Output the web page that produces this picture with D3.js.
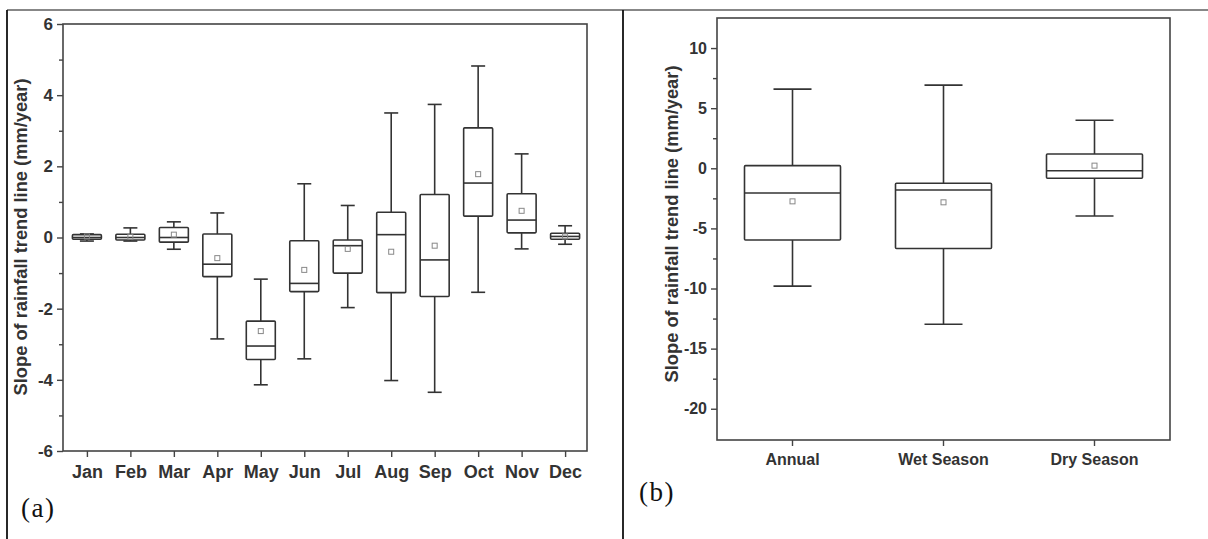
<!DOCTYPE html>
<html>
<head>
<meta charset="utf-8">
<script src="https://cdn.jsdelivr.net/npm/d3@7"></script>
<style>
  html, body { margin: 0; padding: 0; background: #fff; }
  svg { display: block; }
</style>
</head>
<body>
<svg id="chart" width="1208" height="539"></svg>
<script>
// ---------- DATA ----------
const months = ["Jan","Feb","Mar","Apr","May","Jun","Jul","Aug","Sep","Oct","Nov","Dec"];
const monthMin    = [-0.10, -0.10, -0.33, -2.85, -4.14, -3.41, -1.97, -4.02, -4.35, -1.54, -0.32, -0.19];
const monthQ1     = [-0.05, -0.07, -0.13, -1.10, -3.43, -1.52, -1.00, -1.55, -1.66,  0.60,  0.13, -0.05];
const monthMedian = [ 0.00,  0.00,  0.00, -0.75, -3.05, -1.29, -0.23,  0.08, -0.63,  1.53,  0.49,  0.03];
const monthQ3     = [ 0.08,  0.09,  0.28,  0.10, -2.35, -0.09, -0.07,  0.71,  1.21,  3.08,  1.23,  0.12];
const monthMax    = [ 0.10,  0.27,  0.44,  0.69, -1.17,  1.51,  0.90,  3.50,  3.74,  4.82,  2.35,  0.33];
const monthMean   = [ 0.03,  0.02,  0.08, -0.58, -2.63, -0.91, -0.32, -0.40, -0.23,  1.78,  0.75,  0.03];
const monthYTicks = [-6, -4, -2, 0, 2, 4, 6];
const monthYMinor = [-5, -3, -1, 1, 3, 5];

const seasons      = ["Annual", "Wet Season", "Dry Season"];
const seasonMin    = [-9.80, -12.97, -3.97];
const seasonQ1     = [-5.97,  -6.67, -0.83];
const seasonMedian = [-2.06,  -1.81, -0.20];
const seasonQ3     = [ 0.22,  -1.25,  1.19];
const seasonMax    = [ 6.58,   6.92,  4.00];
const seasonMean   = [-2.75,  -2.83,  0.22];
const seasonYTicks = [-20, -15, -10, -5, 0, 5, 10];
const seasonYMinor = [-17.5, -12.5, -7.5, -2.5, 2.5, 7.5];

const yLabel = "Slope of rainfall trend line (mm/year)";

// ---------- DRAW ----------
const svg = d3.select("#chart");
const ink = "#333";
const axisInk = "#444";
const sans = "'Liberation Sans', Arial, sans-serif";

// table borders
svg.append("line").attr("x1", 7).attr("x2", 1208).attr("y1", 10).attr("y2", 10)
  .attr("stroke", "#111").attr("stroke-width", 1.2);
svg.append("line").attr("x1", 7).attr("x2", 7).attr("y1", 10).attr("y2", 539)
  .attr("stroke", "#111").attr("stroke-width", 1.8);
svg.append("line").attr("x1", 623).attr("x2", 623).attr("y1", 10).attr("y2", 539)
  .attr("stroke", "#111").attr("stroke-width", 1.8);

function panel(cfg) {
  const g = svg.append("g");
  const { x, y, left, right, top, bottom } = cfg;

  // frame
  g.append("rect").attr("x", left).attr("y", top)
    .attr("width", right - left).attr("height", bottom - top)
    .attr("fill", "none").attr("stroke", axisInk).attr("stroke-width", 1.6);

  // y axis
  const yAxis = d3.axisLeft(y).tickValues(cfg.yTicks).tickSize(6).tickPadding(4)
    .tickFormat(d => String(d));
  const ya = g.append("g").attr("transform", `translate(${left},0)`).call(yAxis);
  ya.select(".domain").remove();
  ya.selectAll(".tick line").attr("stroke", axisInk).attr("stroke-width", 1.4);
  ya.selectAll(".tick text").attr("fill", ink)
    .style("font-family", sans)
    .style("font-weight", "bold").style("font-size", cfg.tickFont + "px");
  const ym = d3.axisLeft(y).tickValues(cfg.yMinor).tickSize(4).tickFormat("");
  const yma = g.append("g").attr("transform", `translate(${left},0)`).call(ym);
  yma.select(".domain").remove();
  yma.selectAll(".tick line").attr("stroke", axisInk).attr("stroke-width", 1.4);

  // x axis
  const xAxis = d3.axisBottom(x).tickSize(6).tickPadding(cfg.xPad);
  const xa = g.append("g").attr("transform", `translate(0,${bottom})`).call(xAxis);
  xa.select(".domain").remove();
  xa.selectAll(".tick line").attr("stroke", axisInk).attr("stroke-width", 1.4);
  xa.selectAll(".tick text").attr("fill", ink)
    .style("font-family", sans)
    .style("font-weight", "bold").style("font-size", cfg.xFont + "px");

  // boxes
  const cx = d => x(d) + (x.bandwidth ? x.bandwidth() / 2 : 0);
  const data = cfg.cats.map((c, i) => ({
    c, min: cfg.min[i], q1: cfg.q1[i], med: cfg.med[i], q3: cfg.q3[i], max: cfg.max[i], mean: cfg.mean[i]
  }));
  const bw = cfg.boxW, cw = cfg.capW;
  const bg = g.selectAll("g.box").data(data).join("g").attr("class", "box");
  const st = s => s.attr("stroke", ink).attr("stroke-width", 1.6).attr("fill", "none");
  bg.append("line").attr("x1", d => cx(d.c)).attr("x2", d => cx(d.c))
    .attr("y1", d => y(d.max)).attr("y2", d => y(d.q3)).call(st);
  bg.append("line").attr("x1", d => cx(d.c)).attr("x2", d => cx(d.c))
    .attr("y1", d => y(d.q1)).attr("y2", d => y(d.min)).call(st);
  bg.append("line").attr("x1", d => cx(d.c) - cw / 2).attr("x2", d => cx(d.c) + cw / 2)
    .attr("y1", d => y(d.max)).attr("y2", d => y(d.max)).call(st);
  bg.append("line").attr("x1", d => cx(d.c) - cw / 2).attr("x2", d => cx(d.c) + cw / 2)
    .attr("y1", d => y(d.min)).attr("y2", d => y(d.min)).call(st);
  bg.append("rect").attr("x", d => cx(d.c) - bw / 2).attr("width", bw)
    .attr("y", d => y(d.q3)).attr("height", d => Math.max(1, y(d.q1) - y(d.q3)))
    .attr("rx", 1).call(st);
  bg.append("line").attr("x1", d => cx(d.c) - bw / 2).attr("x2", d => cx(d.c) + bw / 2)
    .attr("y1", d => y(d.med)).attr("y2", d => y(d.med)).call(st);
  bg.append("rect").attr("x", d => cx(d.c) - 2.5).attr("y", d => y(d.mean) - 2.5)
    .attr("width", 5).attr("height", 5).attr("fill", "none")
    .attr("stroke", "#888").attr("stroke-width", 1);

  // y label
  g.append("text")
    .attr("transform", `translate(${cfg.labelX},${cfg.labelY}) rotate(-90)`)
    .attr("text-anchor", "middle").attr("dominant-baseline", "middle")
    .attr("fill", ink)
    .style("font-family", sans)
    .style("font-weight", "bold").style("font-size", "18.3px")
    .text(yLabel);

  // panel tag
  g.append("text").attr("x", cfg.tagX).attr("y", cfg.tagY)
    .attr("fill", "#111")
    .style("font-family", "'Liberation Serif', 'Times New Roman', serif")
    .style("font-size", "27px").style("letter-spacing", "1.5px")
    .text(cfg.tag);
}

// panel (a)
const xA = d3.scalePoint().domain(months).range([63, 589]).padding(0.55);
const yA = d3.scaleLinear().domain([-6, 6]).range([451, 24]);
panel({
  x: xA, y: yA, left: 63, right: 587, top: 24, bottom: 451,
  yTicks: monthYTicks, yMinor: monthYMinor, tickFont: 17, xFont: 18, xPad: 8,
  cats: months, min: monthMin, q1: monthQ1, med: monthMedian, q3: monthQ3, max: monthMax, mean: monthMean,
  boxW: 29, capW: 14, labelX: 22, labelY: 237, tag: "(a)", tagX: 21, tagY: 517
});

// panel (b)
const xB = d3.scaleBand().domain(seasons).range([717, 1170]).padding(0);
const yB = d3.scaleLinear().domain([-22.6, 12.5]).range([440, 18]);
panel({
  x: xB, y: yB, left: 717, right: 1170, top: 18, bottom: 440,
  yTicks: seasonYTicks, yMinor: seasonYMinor, tickFont: 16, xFont: 16, xPad: 8,
  cats: seasons, min: seasonMin, q1: seasonQ1, med: seasonMedian, q3: seasonQ3, max: seasonMax, mean: seasonMean,
  boxW: 96, capW: 38, labelX: 673, labelY: 224, tag: "(b)", tagX: 639, tagY: 501
});
</script>
</body>
</html>
